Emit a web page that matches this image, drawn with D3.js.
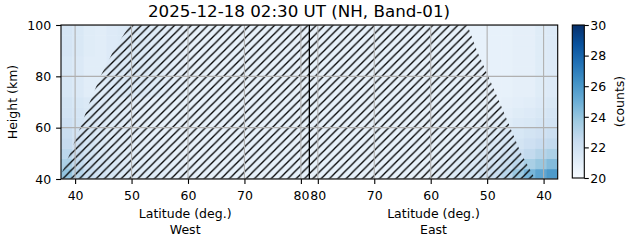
<!DOCTYPE html>
<html><head><meta charset="utf-8">
<script src="https://cdn.jsdelivr.net/npm/d3@7"></script>
<style>
html,body{margin:0;padding:0;background:#fff;}
svg{display:block;font-family:"DejaVu Sans",sans-serif;}
</style></head>
<body>
<svg id="chart" width="631" height="243"></svg>
<script>
// ---------------- data ----------------
const titleText = "2025-12-18 02:30 UT (NH, Band-01)";
const westLatMin = 37.5;   // left edge latitude (West)
const poleLat = 81.5;      // latitude at the West/East split
const eastLatMin = 37.5;   // right edge latitude (East)
const heightEdges = [40,44,48,52,56,60,64,68,72,76,80,84,88,92,96,100];
const trackEdges = d3.range(0, 89, 2); // along-track position edges (deg)
const westTicks = [40,50,60,70,80];
const eastTicks = [80,70,60,50,40];
const heightTicks = [40,60,80,100];
const cbarTicks = [20,22,24,26,28,30];
const cbarDomain = [20,30];
// counts, rows bottom (40 km) -> top (100 km), 44 columns West -> East
const counts = [
 [24.0,23.0,22.3,21.9,21.6,21.4,21.3,21.2,21.1,21.0,20.9,20.9, 20.8,20.8,20.8,20.8,20.8,20.8,20.8,20.8,20.8,20.8,20.8,20.8,20.8,20.8,20.8,20.8,20.8,20.8,20.8,20.8, 20.9,21.0,21.2,21.4,21.6,21.9,22.3,22.9,23.8,24.7,25.4,25.9],
 [23.3,22.6,22.0,21.7,21.5,21.3,21.2,21.1,21.0,20.9,20.9,20.8, 20.8,20.8,20.8,20.8,20.8,20.8,20.8,20.8,20.8,20.8,20.8,20.8,20.8,20.8,20.8,20.8,20.8,20.8,20.8,20.8, 20.8,20.9,21.0,21.2,21.4,21.6,21.9,22.3,22.8,23.4,23.9,24.4],
 [22.8,22.2,21.8,21.5,21.3,21.2,21.1,21.0,20.9,20.9,20.8,20.8, 20.8,20.8,20.8,20.8,20.8,20.8,20.8,20.8,20.8,20.8,20.8,20.8,20.8,20.8,20.8,20.8,20.8,20.8,20.8,20.8, 20.8,20.8,20.9,21.0,21.2,21.4,21.6,21.9,22.2,22.6,23.0,23.3],
 [22.5,22.0,21.7,21.4,21.2,21.1,21.0,20.9,20.9,20.8,20.8,20.8, 20.8,20.8,20.8,20.8,20.8,20.8,20.8,20.8,20.8,20.8,20.8,20.8,20.8,20.8,20.8,20.8,20.8,20.8,20.8,20.8, 20.8,20.8,20.8,20.9,21.0,21.2,21.4,21.6,21.8,22.1,22.4,22.6],
 [22.3,21.9,21.6,21.4,21.2,21.1,21.0,20.9,20.8,20.8,20.8,20.8, 20.8,20.8,20.8,20.8,20.8,20.8,20.8,20.8,20.8,20.8,20.8,20.8,20.8,20.8,20.8,20.8,20.8,20.8,20.8,20.8, 20.8,20.8,20.8,20.8,20.9,21.0,21.2,21.4,21.6,21.8,22.0,22.2],
 [22.1,21.8,21.5,21.3,21.2,21.1,21.0,20.9,20.8,20.8,20.8,20.8, 20.8,20.8,20.8,20.8,20.8,20.8,20.8,20.8,20.8,20.8,20.8,20.8,20.8,20.8,20.8,20.8,20.8,20.8,20.8,20.8, 20.8,20.8,20.8,20.8,20.8,20.9,21.0,21.2,21.4,21.5,21.7,21.9],
 [21.9,21.7,21.5,21.3,21.2,21.1,21.0,20.9,20.8,20.8,20.8,20.8, 20.8,20.8,20.8,20.8,20.8,20.8,20.8,20.8,20.8,20.8,20.8,20.8,20.8,20.8,20.8,20.8,20.8,20.8,20.8,20.8, 20.8,20.8,20.8,20.8,20.8,20.8,20.9,21.0,21.2,21.3,21.5,21.7],
 [21.8,21.6,21.4,21.3,21.2,21.1,21.0,20.9,20.8,20.8,20.8,20.8, 20.8,20.8,20.8,20.8,20.8,20.8,20.8,20.8,20.8,20.8,20.8,20.8,20.8,20.8,20.8,20.8,20.8,20.8,20.8,20.8, 20.8,20.8,20.8,20.8,20.8,20.8,20.8,20.9,21.0,21.1,21.3,21.5],
 [21.6,21.4,21.1,21.1,21.3,21.4,21.4,21.3,21.2,21.0,20.9,20.8, 20.8,20.8,20.8,20.8,20.8,20.8,20.8,20.8,20.8,20.8,20.8,20.8,20.8,20.8,20.8,20.8,20.8,20.8,20.8,20.8, 20.8,20.8,20.8,20.8,20.8,20.8,20.8,20.8,20.9,20.9,21.2,21.3],
 [21.6,21.4,21.1,21.1,21.3,21.4,21.4,21.3,21.2,21.0,20.9,20.8, 20.8,20.8,20.8,20.8,20.8,20.8,20.8,20.8,20.8,20.8,20.8,20.8,20.8,20.8,20.8,20.8,20.8,20.8,20.8,20.8, 20.8,20.8,20.8,20.8,20.8,20.8,20.8,20.8,20.9,20.9,21.2,21.3],
 [21.6,21.4,21.1,21.1,21.3,21.4,21.4,21.3,21.2,21.0,20.9,20.8, 20.8,20.8,20.8,20.8,20.8,20.8,20.8,20.8,20.8,20.8,20.8,20.8,20.8,20.8,20.8,20.8,20.8,20.8,20.8,20.8, 20.8,20.8,20.8,20.8,20.8,20.8,20.8,20.8,20.9,20.9,21.2,21.3],
 [21.6,21.4,21.1,21.1,21.3,21.4,21.4,21.3,21.2,21.0,20.9,20.8, 20.8,20.8,20.8,20.8,20.8,20.8,20.8,20.8,20.8,20.8,20.8,20.8,20.8,20.8,20.8,20.8,20.8,20.8,20.8,20.8, 20.8,20.8,20.8,20.8,20.8,20.8,20.8,20.8,20.9,20.9,21.2,21.3],
 [21.7,21.5,21.2,21.1,21.3,21.4,21.4,21.3,21.2,21.0,20.9,20.8, 20.8,20.8,20.8,20.8,20.8,20.8,20.8,20.8,20.8,20.8,20.8,20.8,20.8,20.8,20.8,20.8,20.8,20.8,20.8,20.8, 20.8,20.8,20.8,20.8,20.8,20.8,20.8,20.8,20.9,20.9,21.2,21.3],
 [21.7,21.5,21.2,21.1,21.3,21.4,21.4,21.3,21.2,21.0,20.9,20.8, 20.8,20.8,20.8,20.8,20.8,20.8,20.8,20.8,20.8,20.8,20.8,20.8,20.8,20.8,20.8,20.8,20.8,20.8,20.8,20.8, 20.8,20.8,20.8,20.8,20.8,20.8,20.8,20.8,20.9,20.9,21.2,21.3],
 [21.7,21.5,21.2,21.1,21.3,21.4,21.4,21.3,21.2,21.0,20.9,20.8, 20.8,20.8,20.8,20.8,20.8,20.8,20.8,20.8,20.8,20.8,20.8,20.8,20.8,20.8,20.8,20.8,20.8,20.8,20.8,20.8, 20.8,20.8,20.8,20.8,20.8,20.8,20.8,20.8,20.9,20.9,21.2,21.3]
];
// hatched region edges (height km -> latitude deg)
const hatchHeights = [40,50,60,70,80,90,100];
const hatchWestLat = [37.2,39.1,40.9,42.6,44.5,46.8,49.7];
const hatchEastLat = [41.5,44.0,45.9,47.8,49.8,51.8,53.5];

// ---------------- layout ----------------
const svg = d3.select("#chart");
const L = 61, R = 557.7, T = 25, B = 179;
const trackMax = (poleLat - westLatMin) + (poleLat - eastLatMin);
const x = d3.scaleLinear().domain([0, trackMax]).range([L, R]);
const y = d3.scaleLinear().domain([40, 100]).range([B, T]);
const westPos = lat => lat - westLatMin;
const eastPos = lat => (poleLat - westLatMin) + (poleLat - lat);

const blues = ["#f7fbff","#deebf7","#c6dbef","#9ecae1","#6baed6","#4292c6","#2171b5","#08519c","#08306b"];
const color = d3.scaleLinear()
  .domain(blues.map((_, i) => cbarDomain[0] + (cbarDomain[1]-cbarDomain[0]) * i/(blues.length-1)))
  .range(blues).clamp(true);

const defs = svg.append("defs");
defs.append("clipPath").attr("id","plotclip").append("rect")
  .attr("x", L).attr("y", T).attr("width", R-L).attr("height", B-T);
const hs = 8.33;
const pat = defs.append("pattern").attr("id","hatch").attr("patternUnits","userSpaceOnUse")
  .attr("width", hs).attr("height", hs);
pat.append("path")
  .attr("d", `M0,${hs} L${hs},0 M${-hs/2},${hs/2} L${hs/2},${-hs/2} M${hs/2},${hs*1.5} L${hs*1.5},${hs/2}`)
  .attr("stroke","#000").attr("stroke-width",1.3).attr("fill","none");

const plot = svg.append("g").attr("clip-path","url(#plotclip)");

// mesh
const cells = [];
counts.forEach((row, r) => row.forEach((v, c) => cells.push({r, c, v})));
plot.append("g").selectAll("rect").data(cells).join("rect")
  .attr("x", d => x(trackEdges[d.c]))
  .attr("y", d => y(heightEdges[d.r+1]))
  .attr("width", d => x(trackEdges[d.c+1]) - x(trackEdges[d.c]) + 0.5)
  .attr("height", d => y(heightEdges[d.r]) - y(heightEdges[d.r+1]) + 0.5)
  .attr("fill", d => color(d.v));

// hatch polygon
const poly = [];
hatchHeights.forEach((h, i) => poly.push([x(westPos(hatchWestLat[i])), y(h)]));
for (let i = hatchHeights.length-1; i >= 0; i--) poly.push([x(eastPos(hatchEastLat[i])), y(hatchHeights[i])]);
poly.unshift([x(westPos(hatchWestLat[0])) - 20, y(36)]);
poly.push([x(eastPos(hatchEastLat[0])), y(36)]);
plot.append("path").attr("d", "M" + poly.map(p => p.join(",")).join("L") + "Z")
  .attr("fill","url(#hatch)");

// grid
const xTickPos = westTicks.map(westPos).concat(eastTicks.map(eastPos));
const xTickLab = westTicks.concat(eastTicks).map(String);
plot.append("g").selectAll("line.gx").data(xTickPos).join("line")
  .attr("x1", d => x(d)).attr("x2", d => x(d)).attr("y1", T).attr("y2", B)
  .attr("stroke","#b0b0b0").attr("stroke-width",1.1);
plot.append("g").selectAll("line.gy").data(heightTicks).join("line")
  .attr("x1", L).attr("x2", R).attr("y1", d => y(d)).attr("y2", d => y(d))
  .attr("stroke","#b0b0b0").attr("stroke-width",1.1);

// split line
plot.append("line").attr("x1", x(poleLat - westLatMin)).attr("x2", x(poleLat - westLatMin))
  .attr("y1", T).attr("y2", B).attr("stroke","#000").attr("stroke-width",1.3);

// spines
svg.append("rect").attr("x", L).attr("y", T).attr("width", R-L).attr("height", B-T)
  .attr("fill","none").attr("stroke","#000").attr("stroke-width",1.1);

// axes
const fs = 12.5;
const xAxis = d3.axisBottom(x).tickValues(xTickPos).tickFormat((d,i) => xTickLab[i]).tickSize(4.9).tickPadding(4.9);
const gx = svg.append("g").attr("transform", `translate(0,${B})`).call(xAxis);
const yAxis = d3.axisLeft(y).tickValues(heightTicks).tickSize(4.9).tickPadding(4.9);
const gy = svg.append("g").attr("transform", `translate(${L},0)`).call(yAxis);
[gx, gy].forEach(g => {
  g.select(".domain").remove();
  g.selectAll(".tick line").attr("stroke","#000").attr("stroke-width",1.1);
  g.selectAll(".tick text").attr("fill","#000").style("font-size", fs+"px").style("font-family","DejaVu Sans");
});
gx.selectAll(".tick text").attr("dy", "0.9em");
gy.selectAll(".tick text").attr("dy", "0.34em");

// axis labels
const lab = (tx, ty, t, rot) => svg.append("text").attr("x", tx).attr("y", ty)
  .attr("text-anchor","middle").style("font-size", fs+"px").attr("fill","#000")
  .attr("transform", rot ? `rotate(-90,${tx},${ty})` : null).text(t);
const xw = (x(0) + x(poleLat - westLatMin)) / 2, xe = (x(poleLat - westLatMin) + x(trackMax)) / 2;
lab(xw, 218, "Latitude (deg.)");
lab(xw, 234, "West");
lab(xe, 218, "Latitude (deg.)");
lab(xe, 234, "East");
lab(16.5, (T+B)/2, "Height (km)", true);

// title
svg.append("text").attr("x", 299).attr("y", 17.3).attr("text-anchor","middle")
  .style("font-size","16.7px").attr("fill","#000").text(titleText);

// colorbar
const cL = 572.3, cR = 584.3, cT = 25, cB = 178;
const cy = d3.scaleLinear().domain(cbarDomain).range([cB, cT]);
const grad = defs.append("linearGradient").attr("id","cgrad").attr("x1",0).attr("y1",1).attr("x2",0).attr("y2",0);
blues.forEach((c, i) => grad.append("stop").attr("offset", i/(blues.length-1)).attr("stop-color", c));
svg.append("rect").attr("x", cL).attr("y", cT).attr("width", cR-cL).attr("height", cB-cT)
  .attr("fill","url(#cgrad)").attr("stroke","#000").attr("stroke-width",1.1);
const cAxis = d3.axisRight(cy).tickValues(cbarTicks).tickSize(4.5).tickPadding(1.5);
const gc = svg.append("g").attr("transform", `translate(${cR},0)`).call(cAxis);
gc.select(".domain").remove();
gc.selectAll(".tick line").attr("stroke","#000").attr("stroke-width",1.1);
gc.selectAll(".tick text").attr("fill","#000").style("font-size", fs+"px").style("font-family","DejaVu Sans").attr("dy","0.34em");
lab(624, (cT+cB)/2, "(counts)", true);
</script>
</body></html>
